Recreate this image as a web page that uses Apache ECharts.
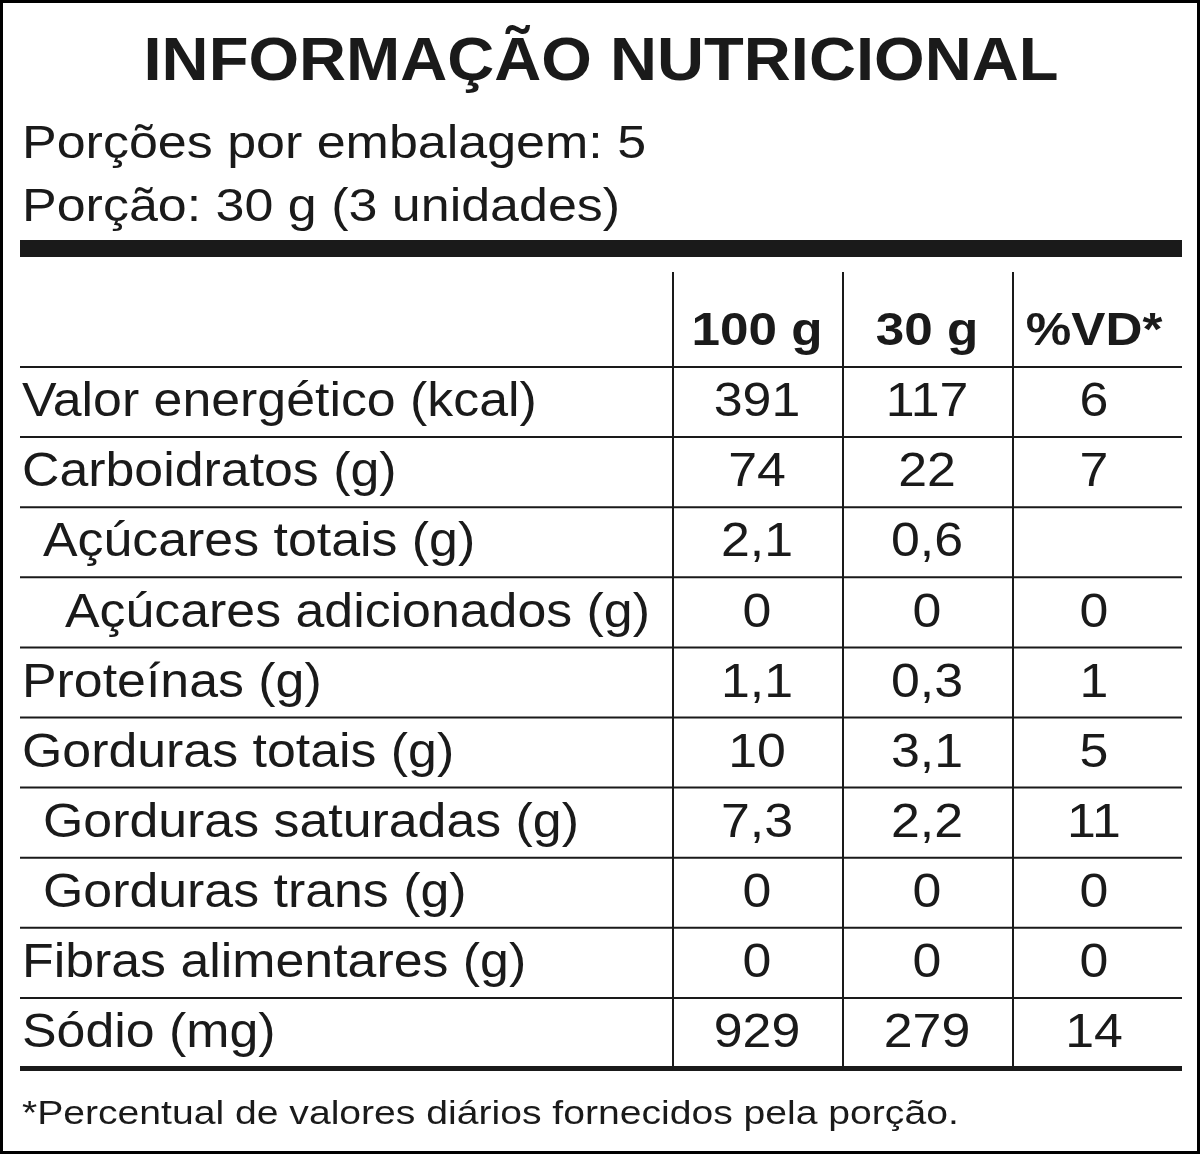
<!DOCTYPE html>
<html><head><meta charset="utf-8">
<script src="https://cdn.jsdelivr.net/npm/echarts@6/dist/echarts.min.js"></script>
<style>html,body{margin:0;padding:0;background:#fff}#c{width:1200px;height:1154px}</style>
</head><body><div id="c"></div>
<script>
const title = "INFORMAÇÃO NUTRICIONAL";
const servingLines = ["Porções por embalagem: 5", "Porção: 30 g (3 unidades)"];
const columns = ["100 g", "30 g", "%VD*"];
const nutrients = ["Valor energético (kcal)","Carboidratos (g)","Açúcares totais (g)","Açúcares adicionados (g)","Proteínas (g)","Gorduras totais (g)","Gorduras saturadas (g)","Gorduras trans (g)","Fibras alimentares (g)","Sódio (mg)"];
const indentLevel = [0,0,1,2,0,0,1,1,0,0];
const per100g = ["391","74","2,1","0","1,1","10","7,3","0","0","929"];
const per30g = ["117","22","0,6","0","0,3","3,1","2,2","0","0","279"];
const vd = ["6","7","","0","1","5","11","0","0","14"];
const footnote = "*Percentual de valores diários fornecidos pela porção.";

const F = "'Liberation Sans', Arial, sans-serif";
const L = 20, R = 1182, colX = [673, 843, 1013], colC = [757, 927, 1094];
const rowTop = 367, rowH = 70.1;
const g = [];
function txt(x, y, s, font, sx, align) {
  g.push({type:'text', x:x, y:y, scaleX:sx, style:{text:s, font:font, fill:'#1a1a1a', align:align||'left', verticalAlign:'middle'}});
}
g.push({type:'rect', shape:{x:1.5,y:1.5,width:1197,height:1151}, style:{fill:'none',stroke:'#000',lineWidth:3}});
txt(601, 63, title, 'bold 62px '+F, 1.05, 'center');
servingLines.forEach((s,i)=>txt(22, 145+i*63, s, '46px '+F, 1.13));
g.push({type:'rect', shape:{x:L,y:240,width:R-L,height:17}, style:{fill:'#1a1a1a'}});
colX.forEach(x=>g.push({type:'line', shape:{x1:x,y1:272,x2:x,y2:1068}, style:{stroke:'#1a1a1a',lineWidth:2}}));
columns.forEach((c,i)=>txt(colC[i], 332, c, 'bold 47px '+F, 1.09, 'center'));
const indentPx = [22, 43, 65];
nutrients.forEach((n,i)=>{
  const top = rowTop + i*rowH;
  g.push({type:'line', shape:{x1:L,y1:top,x2:R,y2:top}, style:{stroke:'#1a1a1a',lineWidth:2}});
  const cy = top + rowH/2 + 1;
  txt(indentPx[indentLevel[i]], cy, n, '48px '+F, 1.08);
  [per100g[i], per30g[i], vd[i]].forEach((v,j)=>txt(colC[j], cy, v, '48px '+F, 1.08, 'center'));
});
g.push({type:'rect', shape:{x:L,y:1066,width:R-L,height:5}, style:{fill:'#1a1a1a'}});
txt(22, 1115, footnote, '34px '+F, 1.15);
const chart = echarts.init(document.getElementById('c'));
chart.setOption({animation:false, graphic:{elements:g}});
</script></body></html>
